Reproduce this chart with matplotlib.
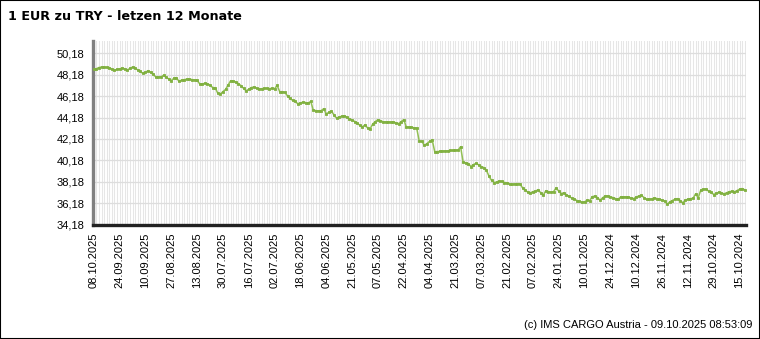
import numpy as np
import matplotlib
matplotlib.use('Agg')
import matplotlib.pyplot as plt

# EUR -> TRY, newest day first (left) to oldest (right)
rates = [
    48.71, 48.74, 48.85, 48.90, 48.88, 48.86, 48.84, 48.70, 48.58, 48.68,
    48.72, 48.80, 48.72, 48.62, 48.76, 48.90, 48.82, 48.62, 48.48, 48.30,
    48.40, 48.56, 48.40, 48.22, 47.97, 47.96, 47.98, 48.12, 47.96, 47.78,
    47.62, 47.85, 47.90, 47.55, 47.68, 47.72, 47.76, 47.75, 47.73, 47.70,
    47.66, 47.33, 47.31, 47.38, 47.32, 47.22, 46.98, 46.96, 46.45, 46.38,
    46.60, 46.80, 47.20, 47.62, 47.58, 47.50, 47.35, 47.15, 46.90, 46.68,
    46.82, 46.98, 47.03, 46.92, 46.84, 46.87, 46.90, 46.90, 46.88, 46.90,
    46.86, 47.18, 46.58, 46.60, 46.52, 46.20, 45.96, 45.78, 45.68, 45.46,
    45.55, 45.60, 45.58, 45.52, 45.69, 44.85, 44.83, 44.80, 44.82, 45.00,
    44.52, 44.65, 44.80, 44.40, 44.13, 44.22, 44.30, 44.35, 44.20, 44.05,
    43.96, 43.80, 43.65, 43.45, 43.30, 43.50, 43.20, 43.12, 43.58, 43.80,
    43.98, 43.88, 43.78, 43.76, 43.77, 43.75, 43.76, 43.68, 43.60, 43.80,
    43.98, 43.30, 43.28, 43.25, 43.22, 43.20, 41.97, 41.95, 41.58, 41.75,
    41.95, 42.10, 40.98, 41.00, 41.02, 41.03, 41.04, 41.06, 41.10, 41.10,
    41.12, 41.12, 41.45, 40.00, 39.95, 39.88, 39.60, 39.78, 39.90, 39.75,
    39.60, 39.50, 39.25, 38.70, 38.30, 38.10, 38.15, 38.24, 38.20, 38.10,
    38.08, 37.95, 37.92, 37.98, 38.00, 37.98, 37.60, 37.40, 37.20, 37.13,
    37.25, 37.28, 37.44, 37.15, 36.90, 37.34, 37.25, 37.20, 37.25, 37.60,
    37.30, 37.07, 37.15, 36.95, 36.80, 36.65, 36.58, 36.42, 36.35, 36.25,
    36.30, 36.45, 36.42, 36.78, 36.84, 36.70, 36.45, 36.68, 36.85, 36.85,
    36.74, 36.70, 36.60, 36.52, 36.77, 36.76, 36.76, 36.75, 36.65, 36.60,
    36.75, 36.84, 36.90, 36.70, 36.52, 36.55, 36.56, 36.68, 36.60, 36.55,
    36.45, 36.38, 36.07, 36.30, 36.42, 36.55, 36.60, 36.40, 36.22, 36.45,
    36.55, 36.60, 36.62, 37.05, 36.68, 37.40, 37.48, 37.50, 37.30, 37.20,
    36.98, 37.10, 37.20, 37.12, 37.05, 37.15, 37.25, 37.28, 37.22, 37.35,
    37.48, 37.54, 37.42,
]

date_labels = [
    '08.10.2025', '24.09.2025', '10.09.2025', '27.08.2025', '13.08.2025',
    '30.07.2025', '16.07.2025', '02.07.2025', '18.06.2025', '04.06.2025',
    '21.05.2025', '07.05.2025', '22.04.2025', '04.04.2025', '21.03.2025',
    '07.03.2025', '21.02.2025', '07.02.2025', '24.01.2025', '10.01.2025',
    '24.12.2024', '10.12.2024', '26.11.2024', '12.11.2024', '29.10.2024',
    '15.10.2024',
]
label_step = 10

y_ticks = [34.18, 36.18, 38.18, 40.18, 42.18, 44.18, 46.18, 48.18, 50.18]

W, H = 760, 339
fig = plt.figure(figsize=(W / 100, H / 100), dpi=100)
fig.patch.set_facecolor('white')

left, right, top, bottom = 93, 746, 41, 224.5
ax = fig.add_axes([left / W, 1 - bottom / H, (right - left) / W, (bottom - top) / H])

x = np.arange(len(rates))
ax.set_xlim(-0.3, len(rates) - 0.5)
ax.set_ylim(34.18, 51.33)

# one light vertical line per day
for xi in x:
    ax.axvline(xi, color='#e6e6e6', lw=0.75, zorder=0)
for yt in y_ticks:
    ax.axhline(yt, color='#dddddd', lw=0.9, zorder=0.5)

ax.plot(x, rates, color='#92c054', lw=1.1, marker='s', ms=1.7,
        mec='#80b040', mfc='#80b040', mew=0.6, zorder=3)

ax.set_yticks(y_ticks)
ax.set_yticklabels([f'{v:.2f}'.replace('.', ',') for v in y_ticks],
                   fontfamily='Liberation Sans', fontsize=8)
ax.set_xticks(x[::label_step][:len(date_labels)])
ax.set_xticklabels(date_labels, rotation=90, fontfamily='Liberation Sans', fontsize=8)
ax.tick_params(axis='both', length=0, colors='#000000')
ax.tick_params(axis='y', pad=6)
ax.tick_params(axis='x', pad=6)

for s in ['top', 'right']:
    ax.spines[s].set_visible(False)
ax.spines['left'].set_color('#808080')
ax.spines['left'].set_linewidth(2.4)
ax.spines['bottom'].set_color('#222222')
ax.spines['bottom'].set_linewidth(2.4)

fig.text(8 / W, 1 - 17 / H, '1 EUR zu TRY - letzen 12 Monate', fontsize=9.2,
         fontweight='bold', fontfamily='DejaVu Sans', va='center', ha='left')
fig.text(752 / W, 1 - 325 / H, '(c) IMS CARGO Austria - 09.10.2025 08:53:09',
         fontsize=8, fontfamily='Liberation Sans', va='center', ha='right')

# frame around the whole image
fig.add_artist(plt.Rectangle((0, 0), 1, 1, transform=fig.transFigure,
                             fill=False, edgecolor='black', lw=1.5))

fig.savefig('out.png', dpi=100)
